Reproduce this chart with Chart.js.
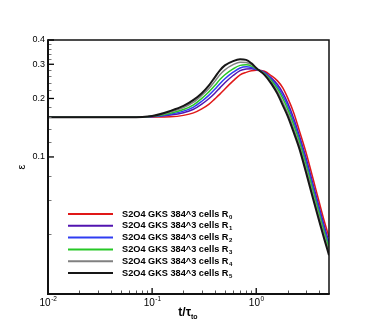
<!DOCTYPE html>
<html>
<head>
<meta charset="utf-8">
<script src="https://cdn.jsdelivr.net/npm/chart.js@4"></script>
<style>
  html, body { margin: 0; padding: 0; background: #fff; }
  canvas { display: block; }
</style>
</head>
<body>
<canvas id="myChart" width="374" height="332"></canvas>
<script>
"use strict";

// time axis t / tau_to
const tValues = [0.01, 0.03, 0.06, 0.1, 0.15, 0.2, 0.25, 0.3, 0.35, 0.4, 0.45, 0.5, 0.6, 0.7, 0.8, 0.9, 1.0, 1.2, 1.4, 1.6, 1.8, 2.0, 2.3, 2.6, 3.0, 3.5, 4.0, 4.5, 5.0];

// epsilon for each run
const epsR0 = [0.16, 0.16, 0.16, 0.1605, 0.161, 0.1637, 0.1686, 0.1768, 0.1865, 0.199, 0.2112, 0.224, 0.2464, 0.2647, 0.2726, 0.2776, 0.2795, 0.276, 0.2615, 0.2464, 0.2268, 0.202, 0.168, 0.1361, 0.1061, 0.0779, 0.0593, 0.0468, 0.0387];
const epsR1 = [0.16, 0.16, 0.16, 0.161, 0.1642, 0.1689, 0.176, 0.1871, 0.1993, 0.213, 0.2275, 0.241, 0.2625, 0.278, 0.2835, 0.2846, 0.2816, 0.2728, 0.2546, 0.236, 0.214, 0.1905, 0.157, 0.1283, 0.0993, 0.0729, 0.0557, 0.0441, 0.0364];
const epsR2 = [0.16, 0.16, 0.16, 0.1614, 0.1661, 0.1721, 0.1807, 0.1936, 0.2075, 0.223, 0.239, 0.2525, 0.273, 0.287, 0.291, 0.2889, 0.2829, 0.2709, 0.2506, 0.2299, 0.2066, 0.1835, 0.1508, 0.1237, 0.0954, 0.07, 0.0536, 0.0425, 0.0351];
const epsR3 = [0.16, 0.16, 0.16, 0.1618, 0.168, 0.1754, 0.1855, 0.2004, 0.216, 0.233, 0.251, 0.265, 0.284, 0.296, 0.298, 0.2933, 0.2841, 0.2689, 0.2466, 0.2239, 0.1999, 0.1768, 0.1452, 0.1193, 0.0916, 0.0673, 0.0516, 0.041, 0.0339];
const epsR4 = [0.16, 0.16, 0.16, 0.1622, 0.1704, 0.1794, 0.1913, 0.2075, 0.2245, 0.245, 0.266, 0.281, 0.2985, 0.3075, 0.3065, 0.2985, 0.2856, 0.2667, 0.2419, 0.2171, 0.1913, 0.1692, 0.1387, 0.1143, 0.0874, 0.0642, 0.0493, 0.0393, 0.0324];
const epsR5 = [0.16, 0.16, 0.16, 0.1625, 0.1726, 0.183, 0.1967, 0.213, 0.233, 0.257, 0.28, 0.296, 0.3115, 0.318, 0.316, 0.3033, 0.287, 0.2647, 0.2378, 0.2112, 0.1843, 0.1627, 0.133, 0.11, 0.0837, 0.0615, 0.0473, 0.0378, 0.0312];

const seriesNames = ["S2O4 GKS 384^3 cells R", "S2O4 GKS 384^3 cells R", "S2O4 GKS 384^3 cells R",
  "S2O4 GKS 384^3 cells R", "S2O4 GKS 384^3 cells R", "S2O4 GKS 384^3 cells R"];
const seriesSubs = ["0", "1", "2", "3", "4", "5"];
const seriesColors = ["#e01818", "#5214b0", "#2f3cf2", "#26c826", "#808080", "#161616"];

// ticks
const xMajor = [0.01, 0.1, 1];
const xMajorExp = ["-2", "-1", "0"];
const xMinor = [0.02, 0.03, 0.04, 0.05, 0.06, 0.07, 0.08, 0.09, 0.2, 0.3, 0.4, 0.5, 0.6, 0.7, 0.8, 0.9, 2, 3, 4];
const yMajor = [0.1, 0.2, 0.3, 0.4];
const yMajorLabels = ["0.1", "0.2", "0.3", "0.4"];
const yMinor = [0.04, 0.06, 0.08, 0.12, 0.14, 0.16, 0.18, 0.22, 0.24, 0.26, 0.28, 0.32, 0.34, 0.36, 0.38];

const allSeries = [epsR0, epsR1, epsR2, epsR3, epsR4, epsR5];

function makePoints(values) {
  let pts = [];
  for (let i = 0; i < tValues.length; i++) {
    pts.push({ x: tValues[i], y: values[i] });
  }
  return pts;
}

const datasets = [];
for (let i = 0; i < allSeries.length; i++) {
  datasets.push({
    label: seriesNames[i] + seriesSubs[i],
    data: makePoints(allSeries[i]),
    borderColor: seriesColors[i],
    borderWidth: i === 5 ? 2 : 1.5,
    pointRadius: 0,
    cubicInterpolationMode: "monotone",
    order: 5 - i,
  });
}

const FONT = "'Liberation Sans', Arial, Helvetica, sans-serif";

const framePlugin = {
  id: "frame",
  afterDatasetsDraw(chart) {
    const ctx = chart.ctx;
    const xs = chart.scales.x;
    const ys = chart.scales.y;
    const a = chart.chartArea;
    ctx.save();

    // top and right border
    ctx.strokeStyle = "#111";
    ctx.lineWidth = 1.5;
    ctx.beginPath();
    ctx.moveTo(a.left, a.top);
    ctx.lineTo(a.right, a.top);
    ctx.lineTo(a.right, a.bottom);
    ctx.stroke();

    // ticks on x
    ctx.lineWidth = 1;
    ctx.strokeStyle = "#555";
    xMinor.forEach(function (v) {
      const px = Math.round(xs.getPixelForValue(v)) + 0.5;
      ctx.beginPath();
      ctx.moveTo(px, a.bottom);
      ctx.lineTo(px, a.bottom - 3.5);
      ctx.stroke();
    });
    ctx.strokeStyle = "#000";
    ctx.lineWidth = 1.3;
    xMajor.forEach(function (v) {
      const px = xs.getPixelForValue(v);
      ctx.beginPath();
      ctx.moveTo(px, a.bottom);
      ctx.lineTo(px, a.bottom - 6);
      ctx.stroke();
    });

    // ticks on y
    ctx.lineWidth = 1;
    ctx.strokeStyle = "#777";
    yMinor.forEach(function (v) {
      const py = Math.round(ys.getPixelForValue(v)) + 0.5;
      ctx.beginPath();
      ctx.moveTo(a.left, py);
      ctx.lineTo(a.left + 3.5, py);
      ctx.stroke();
    });
    ctx.strokeStyle = "#000";
    ctx.lineWidth = 1.3;
    yMajor.forEach(function (v) {
      const py = ys.getPixelForValue(v);
      ctx.beginPath();
      ctx.moveTo(a.left, py);
      ctx.lineTo(a.left + 6, py);
      ctx.stroke();
    });

    // left and bottom axis lines
    ctx.strokeStyle = "#111";
    ctx.lineWidth = 2;
    ctx.beginPath();
    ctx.moveTo(a.left, a.top - 0.75);
    ctx.lineTo(a.left, a.bottom);
    ctx.lineTo(a.right + 0.75, a.bottom);
    ctx.stroke();

    // y labels
    ctx.fillStyle = "#000";
    ctx.font = "9px " + FONT;
    ctx.textAlign = "right";
    ctx.textBaseline = "middle";
    yMajor.forEach(function (v, i) {
      ctx.fillText(yMajorLabels[i], a.left - 3, ys.getPixelForValue(v));
    });

    // x labels 10^n
    ctx.textBaseline = "alphabetic";
    ctx.textAlign = "left";
    xMajor.forEach(function (v, i) {
      const px = xs.getPixelForValue(v);
      ctx.font = "10px " + FONT;
      const w1 = ctx.measureText("10").width;
      ctx.font = "6.5px " + FONT;
      const w2 = ctx.measureText(xMajorExp[i]).width;
      const x0 = px - (w1 + w2) / 2;
      ctx.font = "10px " + FONT;
      ctx.fillText("10", x0, a.bottom + 12);
      ctx.font = "6.5px " + FONT;
      ctx.fillText(xMajorExp[i], x0 + w1 + 0.5, a.bottom + 7);
    });

    // x title t/tau_to
    ctx.font = "bold 12px " + FONT;
    const tw = ctx.measureText("t/\u03c4").width;
    ctx.font = "bold 7px " + FONT;
    const sw = ctx.measureText("to").width;
    const tx = 188 - (tw + sw) / 2;
    ctx.font = "bold 12px " + FONT;
    ctx.fillText("t/\u03c4", tx, 316);
    ctx.font = "bold 7px " + FONT;
    ctx.fillText("to", tx + tw, 319);

    // y title epsilon
    ctx.save();
    ctx.translate(25, 167);
    ctx.rotate(-Math.PI / 2);
    ctx.font = "11px " + FONT;
    ctx.textAlign = "center";
    ctx.fillText("\u03b5", 0, 0);
    ctx.restore();

    // legend inside plot
    const legX = 68, legLen = 45, legTop = 214, legStep = 11.8;
    for (let i = 0; i < seriesNames.length; i++) {
      const ly = legTop + i * legStep;
      ctx.strokeStyle = seriesColors[i];
      ctx.lineWidth = 2;
      ctx.beginPath();
      ctx.moveTo(legX, ly);
      ctx.lineTo(legX + legLen, ly);
      ctx.stroke();
      ctx.fillStyle = "#000";
      ctx.font = "bold 9.2px " + FONT;
      ctx.textBaseline = "middle";
      ctx.fillText(seriesNames[i], 122, ly);
      const nw = ctx.measureText(seriesNames[i]).width;
      ctx.font = "bold 6px " + FONT;
      ctx.fillText(seriesSubs[i], 122 + nw + 0.5, ly + 3);
    }

    ctx.restore();
  },
};

const config = {
  type: "line",
  data: { datasets: datasets },
  options: {
    responsive: false,
    animation: false,
    layout: { padding: { left: 48, top: 40, right: 45, bottom: 38 } },
    plugins: { legend: { display: false }, tooltip: { enabled: false } },
    scales: {
      x: { type: "logarithmic", min: 0.01, max: 5, display: false },
      y: { type: "logarithmic", min: 0.0197, max: 0.4, display: false },
    },
  },
  plugins: [framePlugin],
};

new Chart(document.getElementById("myChart"), config);
</script>
</body>
</html>
